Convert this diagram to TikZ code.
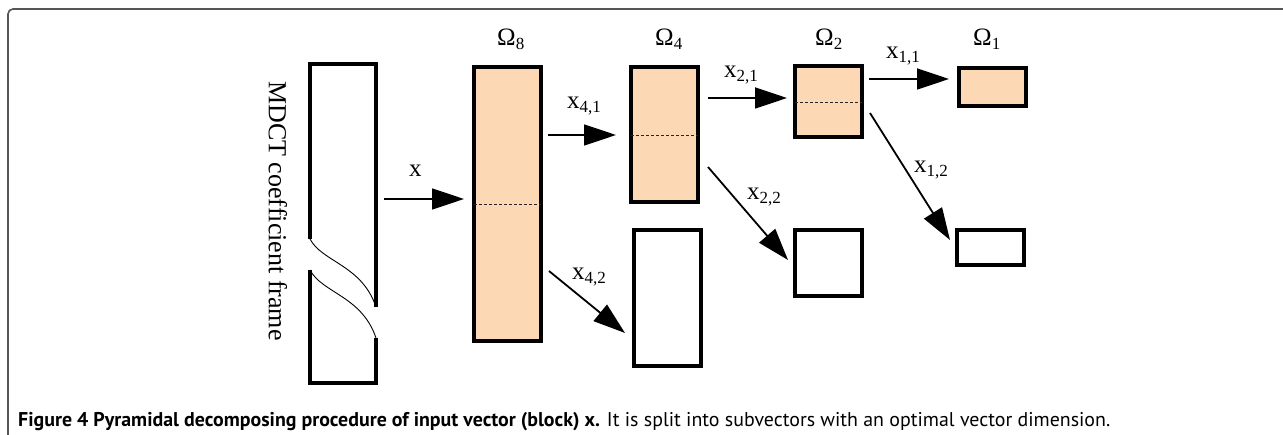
\documentclass[tikz,border=0pt]{standalone}
\usepackage{fontspec}
\setmainfont{Liberation Serif}
\newfontfamily\capfont{PT Sans}
\usetikzlibrary{arrows.meta}
\definecolor{peach}{HTML}{FDD8B5}
\definecolor{framegray}{HTML}{555555}
\newcommand{\lbl}{\fontsize{25}{30}\selectfont}
\newcommand{\sbs}[1]{\raisebox{-4pt}{\fontsize{17}{20}\selectfont #1}}
\tikzset{
  blk/.style={line width=3.6pt, line join=miter},
  fullblk/.style={blk, fill=peach},
  split/.style={line width=0.9pt, dash pattern=on 3pt off 2pt, draw=black!85},
  arr/.style={line width=1.8pt, -{Triangle[length=32pt,width=21pt]}},
  lab/.style={inner sep=0pt, anchor=base west, font=\lbl},
}
\begin{document}
\begin{tikzpicture}[x=1pt,y=-1pt]
\useasboundingbox (0,0) rectangle (1283,435);
% outer frame
\draw[framegray, line width=1.6pt, rounded corners=5pt] (8,436) -- (8,9) -- (1284,9);
% MDCT frame
\coordinate (m1) at (310,239);
\coordinate (m2) at (376,307);
\coordinate (m3) at (310,270);
\coordinate (m4) at (376,338);
\draw[blk] (m1) -- (310,64) -- (376,64) -- (m2);
\draw[blk] (m3) -- (310,383) -- (376,383) -- (m4);
\draw[line width=0.9pt] (m1) .. controls (322,262) and (362,265) .. (m2);
\draw[line width=0.9pt] (m3) .. controls (322,293) and (362,296) .. (m4);
\node[rotate=-90, inner sep=0pt, font=\fontsize{26}{30}\selectfont] (mdct) at (278,211) {MDCT coefficient frame};
\coordinate (mdctout) at (384,199);
% blocks
\draw[fullblk] (474,67) rectangle (541,341);
\draw[split] (474,204) -- (541,204);
\draw[fullblk] (631,67) rectangle (698,202);
\draw[split] (631,135) -- (698,135);
\draw[blk] (634,230) rectangle (701,366);
\draw[fullblk] (795,66) rectangle (862,137);
\draw[split] (795,102) -- (862,102);
\draw[blk] (795,230) rectangle (862,296);
\draw[fullblk] (959,68) rectangle (1026,106);
\draw[blk] (957,230) rectangle (1024,265);
% arrow coordinates
\coordinate (o8in) at (464,199);
\coordinate (o8a) at (548,135);
\coordinate (o4in) at (616,135);
\coordinate (o8b) at (549,271);
\coordinate (e4in) at (625,333);
\coordinate (o4a) at (708,98);
\coordinate (o2in) at (787,98);
\coordinate (o4b) at (708,167);
\coordinate (e2in) at (788,260);
\coordinate (o2a) at (869,79);
\coordinate (o1in) at (949,79);
\coordinate (o2b) at (870,113);
\coordinate (e1in) at (950,240);
\draw[arr] (mdctout) -- (o8in);
\draw[arr] (o8a) -- (o4in);
\draw[arr] (o8b) -- (e4in);
\draw[arr] (o4a) -- (o2in);
\draw[arr] (o4b) -- (e2in);
\draw[arr] (o2a) -- (o1in);
\draw[arr] (o2b) -- (e1in);
% labels
\node[lab] (lx) at (409,177) {x};
\node[lab] (l41) at (567,109) {x\sbs{4,1}};
\node[lab] (l42) at (572,280) {x\sbs{4,2}};
\node[lab] (l21) at (724,78) {x\sbs{2,1}};
\node[lab] (l22) at (747,200) {x\sbs{2,2}};
\node[lab] (l11) at (886,59) {x\sbs{1,1}};
\node[lab] (l12) at (914,173) {x\sbs{1,2}};
\node[lab] (w8) at (497,46) {Ω\sbs{8}};
\node[lab] (w4) at (655,46) {Ω\sbs{4}};
\node[lab] (w2) at (815,46) {Ω\sbs{2}};
\node[lab] (w1) at (973,46) {Ω\sbs{1}};
% caption
\node[inner sep=0pt, anchor=base west, font=\capfont\fontsize{19.9}{22}\selectfont] (cap) at (18,427)
  {\textbf{Figure 4 Pyramidal decomposing procedure of input vector (block) x.} It is split into subvectors with an optimal vector dimension.};
\end{tikzpicture}
\end{document}
